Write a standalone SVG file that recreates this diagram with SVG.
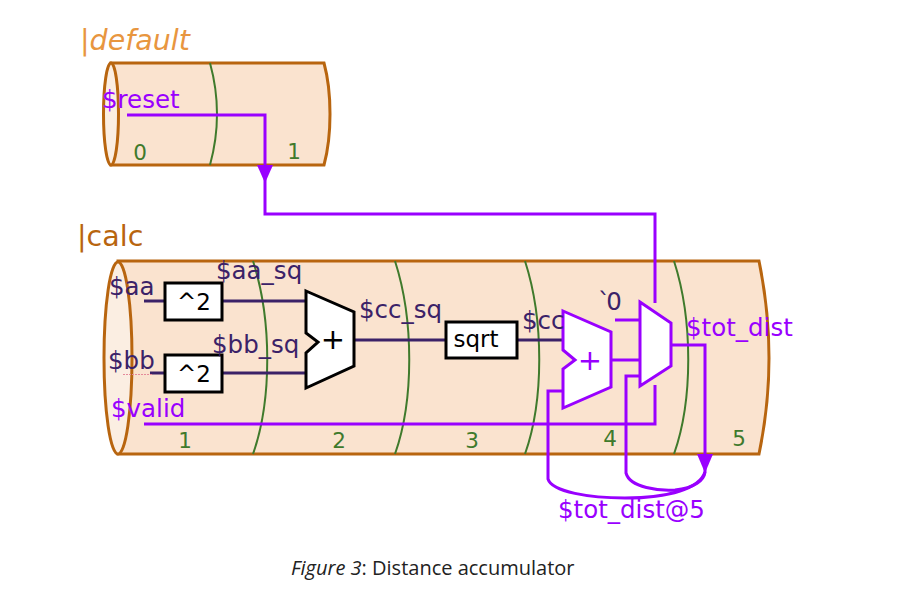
<svg xmlns="http://www.w3.org/2000/svg" width="901" height="592" viewBox="0 0 901 592">
<style>
text{font-family:"DejaVu Sans",sans-serif}
.cyl{fill:#fae3cf;stroke:#b8650f;stroke-width:3}
.cap{fill:#fbeee2;stroke:#b8650f;stroke-width:3}
.stage{fill:none;stroke:#3f7a2c;stroke-width:2}
.num{fill:#3f7a2c;font-size:21.500px;text-anchor:middle}
.p{fill:none;stroke:#9900ff;stroke-width:3}
.d{fill:none;stroke:#3b2268;stroke-width:3}
.pt{fill:#9900ff;font-size:24.500px}
.dt{fill:#3b2268;font-size:24.500px}
.box{fill:#fff;stroke:#000;stroke-width:3}
.bt{fill:#000;font-size:23px;text-anchor:middle}
.pf{fill:#fff;stroke:#9900ff;stroke-width:3}
</style>
<g id="pipe-default">
<path class="cyl" d="M111 63H324Q330 85 330 114T324 165H111Z"/>
<ellipse class="cap" cx="111" cy="114" rx="7.500" ry="51"/>
<path class="stage" d="M210 63Q224 114 210 165"/>
<text x="80" y="50" style="font-size:28.500px;font-style:italic;fill:#e8963f">|default</text>
<text class="num" x="140" y="160">0</text>
<text class="num" x="294" y="159">1</text>
</g>
<g id="pipe-calc">
<path class="cyl" d="M118 261H759Q769 310 769 358T759 454H118Z"/>
<ellipse class="cap" cx="118" cy="358" rx="14" ry="96"/>
<path class="stage" d="M253 261C272 320 272 400 253 454"/>
<path class="stage" d="M395 261C414 320 414 400 395 454"/>
<path class="stage" d="M525 261C544 320 544 400 525 454"/>
<path class="stage" d="M674 261C693 320 693 400 674 454"/>
<text x="77" y="246" style="font-size:28.500px;fill:#b8650f">|calc</text>
<text class="num" x="185" y="448">1</text>
<text class="num" x="339" y="448">2</text>
<text class="num" x="472" y="448">3</text>
<text class="num" x="610" y="446">4</text>
<text class="num" x="739" y="446">5</text>
</g>
<g id="connectors">
<path class="p" d="M127 115H265V214H655V303"/>
<path class="p" d="M655 385V424H144"/>
<path class="p" d="M615 320H640"/>
<path class="p" d="M611 360H640"/>
<path class="p" d="M640 376H626V473C630 488 660 491 675 490C695 488 704 480 705 472V345H671"/>
<path class="p" d="M564 391H548V479C552 492 590 498 625 498C670 498 700 488 705 472"/>
<path class="d" d="M144 301H165M222 301H306M150 373H165M222 373H306M354 340H446M517 340H563"/>
<path d="M123 374.500h29" fill="none" stroke="#e58a9a" stroke-width="1" stroke-dasharray="2 1"/>
<path d="M257 165H273L265 183Z" fill="#9900ff"/>
<path d="M697 454H713L705 473Z" fill="#9900ff"/>
</g>
<g id="node-sq1"><rect class="box" x="165" y="283" width="57" height="37"/><text class="bt" x="194" y="310">^2</text></g>
<g id="node-sq2"><rect class="box" x="165" y="355" width="57" height="37"/><text class="bt" x="194" y="382">^2</text></g>
<g id="node-add1"><path class="box" d="M306 291L354 312V366L306 388V353L318 342L306 333Z"/><text class="bt" x="333" y="349" style="font-size:29px">+</text></g>
<g id="node-sqrt"><rect class="box" x="446" y="322" width="71" height="36"/><text class="bt" x="476" y="347">sqrt</text></g>
<g id="node-add2"><path class="pf" d="M563 311L611 332V387L563 408V369L575 360L563 350Z"/><text x="590" y="370" style="font-size:29px;fill:#9900ff;text-anchor:middle">+</text></g>
<g id="node-mux"><path class="pf" d="M640 302L671 323V366L640 386Z"/></g>
<g id="labels">
<text class="pt" x="102" y="108">$reset</text>
<text class="dt" x="109" y="295">$aa</text>
<text class="dt" x="216" y="279">$aa_sq</text>
<text class="dt" x="108" y="369">$bb</text>
<text class="dt" x="212" y="353">$bb_sq</text>
<text class="pt" x="111" y="417">$valid</text>
<text class="dt" x="359" y="318">$cc_sq</text>
<text class="dt" x="522" y="329">$cc</text>
<text class="dt" x="598" y="310" style="letter-spacing:-4px">`0</text>
<text class="pt" x="686" y="336">$tot_dist</text>
<text class="pt" x="558" y="518">$tot_dist@5</text>
<text x="291" y="575" style="font-family:'Open Sans',sans-serif;font-size:20px;fill:#222"><tspan font-style="italic">Figure 3</tspan>: Distance accumulator</text>
</g>
</svg>
